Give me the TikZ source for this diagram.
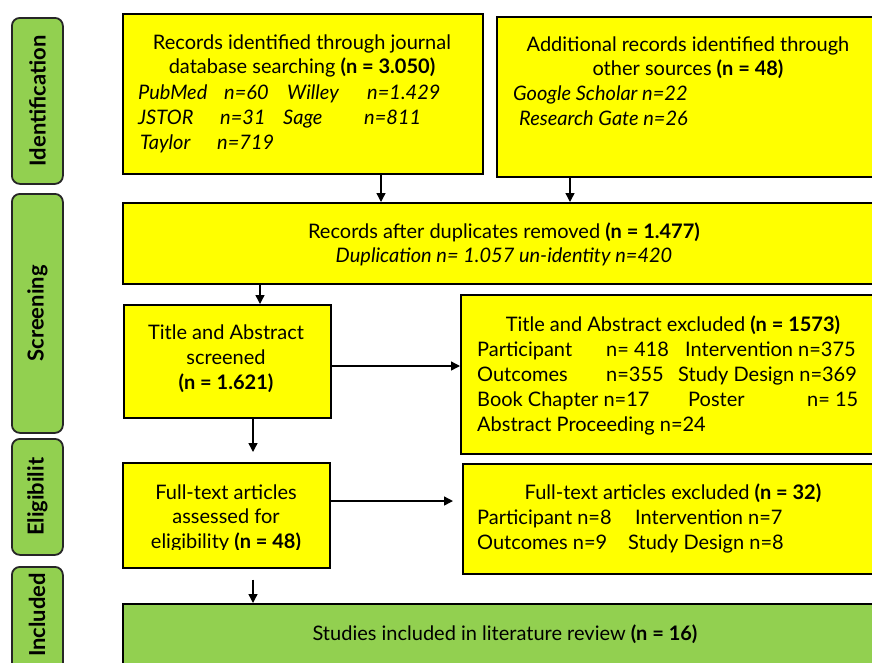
\documentclass[tikz,border=0pt]{standalone}
\usepackage{fontspec}
\setmainfont{Lato}
\usetikzlibrary{arrows.meta}
\definecolor{sidegreen}{HTML}{92D050}
\definecolor{boxyellow}{HTML}{FFFF00}
\begin{document}
\begin{tikzpicture}[x=1pt,y=-1pt,
  ybox/.style={draw=black, line width=1.6pt, fill=boxyellow, anchor=north west, inner sep=0pt},
  gbox/.style={draw=black, line width=1.6pt, fill=sidegreen, anchor=north west, inner sep=0pt},
  side/.style={draw=black!85, line width=1.8pt, fill=sidegreen, rounded corners=8pt, anchor=north west, inner sep=0pt, minimum width=51pt},
  sidetxt/.style={rotate=90, inner sep=0pt, font=\bfseries\fontsize{22}{24}\selectfont},
  txt/.style={inner sep=0pt, font=\fontsize{20}{22}\selectfont},
  ctxt/.style={txt, anchor=base},
  ltxt/.style={txt, anchor=base west},
  itxt/.style={ltxt, font=\itshape\fontsize{20}{22}\selectfont},
  arr/.style={-{Triangle[length=9pt,width=9pt]}, line width=1.4pt}
]
\path[use as bounding box, clip] (0,0) rectangle (872,662);

% side labels
\node[side, minimum height=166pt] (s1) at (11,17) {};
\node[side, minimum height=239pt] (s2) at (11,193) {};
\node[side, minimum height=116pt] (s3) at (11,438) {};
\node[side, minimum height=110pt] (s4) at (11,566) {};
\node[sidetxt] (s1t) at (s1.center) {Identification};
\node[sidetxt] (s2t) at (s2.center) {Screening};
\node[sidetxt] (s3t) at (s3.center) {Eligibilit};
\node[sidetxt] (s4t) at (37,615) {Included};

% boxes
\node[ybox, minimum width=360pt, minimum height=160pt] (b1) at (122,13) {};
\node[ybox, minimum width=404pt, minimum height=160pt] (b2) at (496,16) {};
\node[ybox, minimum width=778pt, minimum height=81pt] (b3) at (122,202) {};
\node[ybox, minimum width=207pt, minimum height=113pt] (b4) at (123,304) {};
\node[ybox, minimum width=440pt, minimum height=159pt] (b5) at (460,294) {};
\node[ybox, minimum width=207pt, minimum height=105pt] (b6) at (122,462) {};
\node[ybox, minimum width=438pt, minimum height=110pt] (b7) at (462,463) {};
\node[gbox, minimum width=778pt, minimum height=80pt] (b8) at (122,603) {};

% box 1 text
\node[ctxt] (b1a) at (302,49) {Records identified through journal};
\node[ctxt] (b1b) at (302,73) {database searching \textbf{(n = 3.050)}};
\node[itxt] (b1c1) at (138,99) {PubMed};
\node[itxt] (b1c2) at (224,99) {n=60};
\node[itxt] (b1c3) at (287,99) {Willey};
\node[itxt] (b1c4) at (367,99) {n=1.429};
\node[itxt] (b1d1) at (138,124) {JSTOR};
\node[itxt] (b1d2) at (220,124) {n=31};
\node[itxt] (b1d3) at (283,124) {Sage};
\node[itxt] (b1d4) at (364,124) {n=811};
\node[itxt] (b1e1) at (140,149) {Taylor};
\node[itxt] (b1e2) at (217,149) {n=719};

% box 2 text
\node[ctxt] (b2a) at (688,51) {Additional records identified through};
\node[ctxt] (b2b) at (688,75) {other sources \textbf{(n = 48)}};
\node[itxt] (b2c) at (513,100) {Google Scholar n=22};
\node[itxt] (b2d) at (519,125) {Research Gate n=26};

% box 3 text
\node[ctxt] (b3a) at (504,238) {Records after duplicates removed \textbf{(n = 1.477)}};
\node[ctxt, font=\itshape\fontsize{20}{22}\selectfont] (b3b) at (504,262) {Duplication n= 1.057 un-identity n=420};

% box 4 text
\node[ctxt] (b4a) at (226,339) {Title and Abstract};
\node[ctxt] (b4b) at (226,364) {screened};
\node[ctxt] (b4c) at (226,389) {\textbf{(n = 1.621)}};

% box 5 text
\node[ctxt] (b5a) at (673,331) {Title and Abstract excluded \textbf{(n = 1573)}};
\node[ltxt] (b5b1) at (477,356) {Participant};
\node[ltxt] (b5b2) at (606,356) {n= 418};
\node[ltxt] (b5b3) at (685,356) {Intervention n=375};
\node[ltxt] (b5c1) at (477,381) {Outcomes};
\node[ltxt] (b5c2) at (606,381) {n=355};
\node[ltxt] (b5c3) at (678,381) {Study Design n=369};
\node[ltxt] (b5d1) at (477,406) {Book Chapter n=17};
\node[ltxt] (b5d2) at (688,406) {Poster};
\node[ltxt] (b5d3) at (807,406) {n= 15};
\node[ltxt] (b5e) at (477,431) {Abstract Proceeding n=24};

% box 6 text
\node[ctxt] (b6a) at (226,499) {Full-text articles};
\node[ctxt] (b6b) at (226,523) {assessed for};
\begin{scope}
\clip (125,525) rectangle (326,549.5);
\node[ctxt] (b6c) at (226,548) {eligibility \textbf{(n = 48)}};
\end{scope}

% box 7 text
\node[ctxt] (b7a) at (673,499) {Full-text articles excluded \textbf{(n = 32)}};
\node[ltxt] (b7b1) at (477,524) {Participant n=8};
\node[ltxt] (b7b2) at (635,524) {Intervention n=7};
\node[ltxt] (b7c1) at (477,549) {Outcomes n=9};
\node[ltxt] (b7c2) at (628,549) {Study Design n=8};

% box 8 text
\node[ctxt] (b8a) at (505,640) {Studies included in literature review \textbf{(n = 16)}};

% connectors
\coordinate (x1) at (381,0);
\coordinate (x2) at (570,0);
\coordinate (x3) at (260,0);
\coordinate (x4) at (253,0);
\coordinate (y1) at (0,366);
\coordinate (y2) at (0,501);
\draw[arr] (b1.south -| x1) -- (b3.north -| x1);
\draw[arr] (b2.south -| x2) -- (b3.north -| x2);
\draw[arr] (b3.south -| x3) -- (b4.north -| x3);
\draw[arr, shorten >=10pt] (b4.south -| x4) -- (b6.north -| x4);
\draw[arr] (b4.east |- y1) -- (b5.west |- y1);
\draw[arr, shorten >=9pt] (b6.east |- y2) -- (b7.west |- y2);
\draw[arr, shorten <=11pt] (b6.south -| x4) -- (b8.north -| x4);
\end{tikzpicture}
\end{document}
